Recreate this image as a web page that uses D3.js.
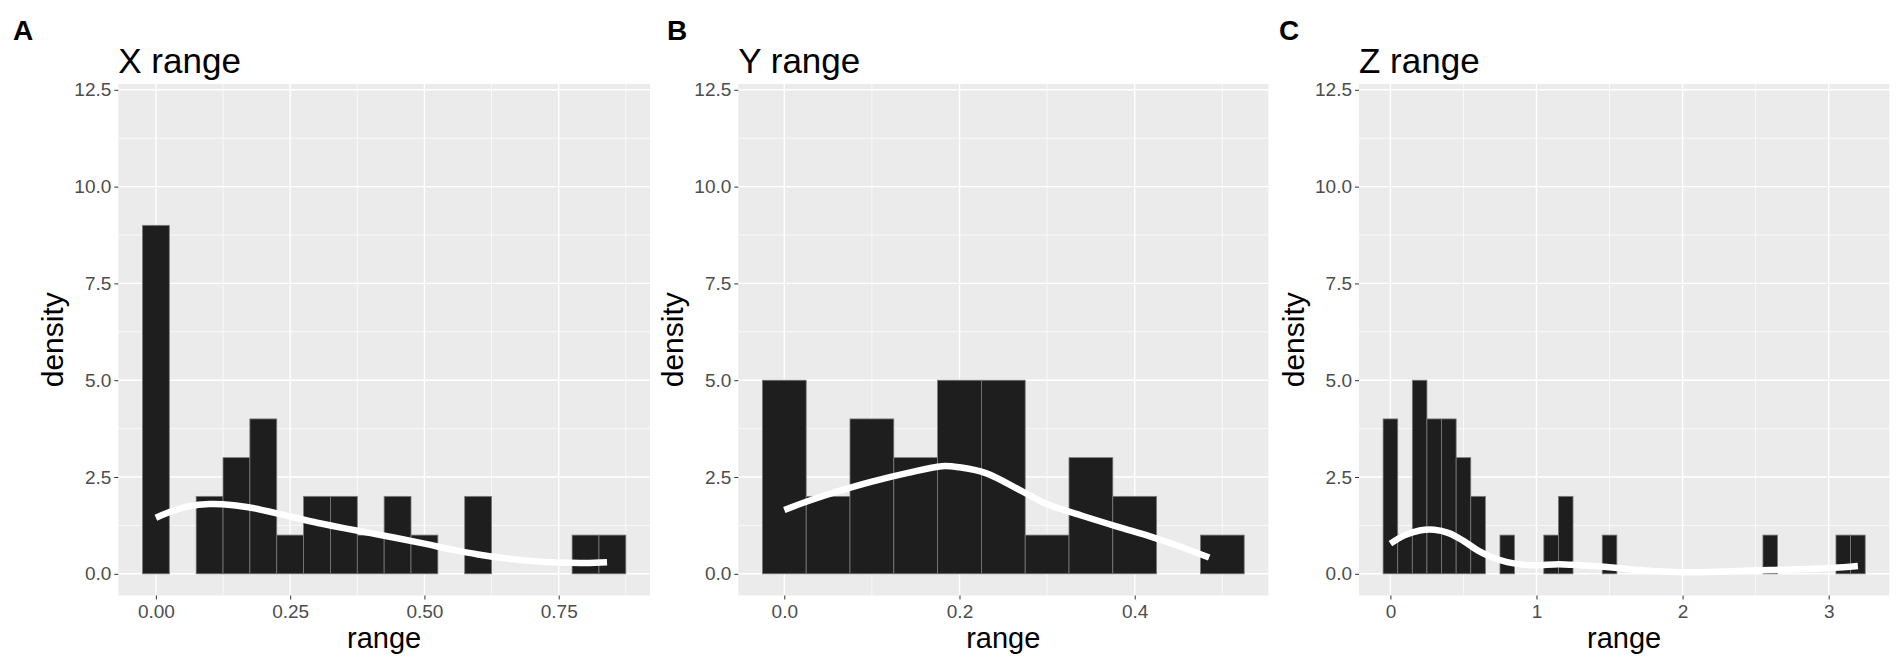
<!DOCTYPE html>
<html><head><meta charset="utf-8">
<script src="https://cdn.jsdelivr.net/npm/d3@7"></script>
<style>
body{margin:0;background:#fff}
svg{display:block}
text{font-family:"Liberation Sans",Arial,sans-serif}
</style></head>
<body><svg id="chart" width="1904" height="662"></svg>
<script>
// ---------- data ----------
const binCentersA = [0, 0.10, 0.15, 0.20, 0.25, 0.30, 0.35, 0.40, 0.45, 0.50, 0.60, 0.80, 0.85];
const densityA    = [9, 2, 3, 4, 1, 2, 2, 1, 2, 1, 2, 1, 1];
const binWidthA   = 0.05;
const curveXA = [0, 0.03, 0.06, 0.10, 0.14, 0.18, 0.25, 0.30, 0.35, 0.40, 0.45, 0.50, 0.55, 0.60, 0.65, 0.70, 0.75, 0.80, 0.84];
const curveYA = [1.45, 1.62, 1.74, 1.80, 1.78, 1.70, 1.48, 1.32, 1.18, 1.05, 0.92, 0.78, 0.63, 0.50, 0.40, 0.33, 0.29, 0.28, 0.30];
const xTicksA = [0, 0.25, 0.5, 0.75];
const xTickLabelsA = ["0.00", "0.25", "0.50", "0.75"];
const xMinorA = [0.125, 0.375, 0.625, 0.875];

const binCentersB = [0, 0.05, 0.10, 0.15, 0.20, 0.25, 0.30, 0.35, 0.40, 0.50];
const densityB    = [5, 2, 4, 3, 5, 5, 1, 3, 2, 1];
const binWidthB   = 0.05;
const curveXB = [0, 0.03, 0.06, 0.10, 0.14, 0.18, 0.20, 0.23, 0.27, 0.30, 0.34, 0.38, 0.42, 0.45, 0.485];
const curveYB = [1.65, 1.90, 2.12, 2.38, 2.60, 2.78, 2.75, 2.60, 2.15, 1.80, 1.50, 1.22, 0.95, 0.72, 0.42];
const xTicksB = [0, 0.2, 0.4];
const xTickLabelsB = ["0.0", "0.2", "0.4"];
const xMinorB = [0.1, 0.3, 0.5];

const binCentersC = [0, 0.1, 0.2, 0.3, 0.4, 0.5, 0.6, 0.8, 1.1, 1.2, 1.5, 2.6, 3.1, 3.2];
const densityC    = [4, 1, 5, 4, 4, 3, 2, 1, 1, 2, 1, 1, 1, 1];
const binWidthC   = 0.1;
const curveXC = [0, 0.1, 0.2, 0.3, 0.4, 0.5, 0.6, 0.7, 0.8, 0.9, 1.0, 1.15, 1.3, 1.5, 1.7, 2.0, 2.3, 2.6, 2.9, 3.1, 3.2];
const curveYC = [0.78, 1.00, 1.12, 1.14, 1.05, 0.85, 0.60, 0.42, 0.30, 0.24, 0.22, 0.25, 0.22, 0.17, 0.10, 0.04, 0.06, 0.10, 0.13, 0.17, 0.20];
const xTicksC = [0, 1, 2, 3];
const xTickLabelsC = ["0", "1", "2", "3"];
const xMinorC = [0.5, 1.5, 2.5];

const yTicks = [0, 2.5, 5, 7.5, 10, 12.5];
const yTickLabels = ["0.0", "2.5", "5.0", "7.5", "10.0", "12.5"];
const yMinor = [1.25, 3.75, 6.25, 8.75, 11.25];
const yDomain = [-0.56, 12.65];

const letters = ["A", "B", "C"];
const titles = ["X range", "Y range", "Z range"];

// ---------- layout ----------
const svg = d3.select("#chart");
const plotTop = 84, plotBottom = 595.5;
const panels = [
  {letter: letters[0], title: titles[0], left: 118.3, right: 650, letterX: 13, xDomain: [-0.07, 0.92],
   centers: binCentersA, dens: densityA, bw: binWidthA, cx: curveXA, cy: curveYA,
   xTicks: xTicksA, xLabels: xTickLabelsA, xMinor: xMinorA},
  {letter: letters[1], title: titles[1], left: 738.3, right: 1268.3, letterX: 667, xDomain: [-0.0525, 0.5525],
   centers: binCentersB, dens: densityB, bw: binWidthB, cx: curveXB, cy: curveYB,
   xTicks: xTicksB, xLabels: xTickLabelsB, xMinor: xMinorB},
  {letter: letters[2], title: titles[2], left: 1359, right: 1889.3, letterX: 1279, xDomain: [-0.215, 3.415],
   centers: binCentersC, dens: densityC, bw: binWidthC, cx: curveXC, cy: curveYC,
   xTicks: xTicksC, xLabels: xTickLabelsC, xMinor: xMinorC}
];

panels.forEach(p => {
  const g = svg.append("g");
  const x = d3.scaleLinear().domain(p.xDomain).range([p.left, p.right]);
  const y = d3.scaleLinear().domain(yDomain).range([plotBottom, plotTop]);

  g.append("rect").attr("x", p.left).attr("y", plotTop)
    .attr("width", p.right - p.left).attr("height", plotBottom - plotTop).attr("fill", "#EBEBEB");

  g.selectAll(".ymin").data(yMinor).join("line")
    .attr("x1", p.left).attr("x2", p.right).attr("y1", d => y(d)).attr("y2", d => y(d))
    .attr("stroke", "#fff").attr("stroke-width", 0.7);
  g.selectAll(".xmin").data(p.xMinor.filter(d => x(d) < p.right)).join("line")
    .attr("y1", plotTop).attr("y2", plotBottom).attr("x1", d => x(d)).attr("x2", d => x(d))
    .attr("stroke", "#fff").attr("stroke-width", 0.7);
  g.selectAll(".ymaj").data(yTicks).join("line")
    .attr("x1", p.left).attr("x2", p.right).attr("y1", d => y(d)).attr("y2", d => y(d))
    .attr("stroke", "#fff").attr("stroke-width", 1.4);
  g.selectAll(".xmaj").data(p.xTicks).join("line")
    .attr("y1", plotTop).attr("y2", plotBottom).attr("x1", d => x(d)).attr("x2", d => x(d))
    .attr("stroke", "#fff").attr("stroke-width", 1.4);

  const bars = p.centers.map((c, i) => ({c, h: p.dens[i]}));
  g.selectAll(".bar").data(bars).join("rect")
    .attr("x", d => x(d.c - p.bw / 2))
    .attr("width", d => x(d.c + p.bw / 2) - x(d.c - p.bw / 2))
    .attr("y", d => y(d.h))
    .attr("height", d => y(0) - y(d.h))
    .attr("fill", "#1E1E1E").attr("stroke", "#7a7a7a").attr("stroke-width", 0.8);

  const pts = p.cx.map((v, i) => [v, p.cy[i]]);
  g.append("path").datum(pts)
    .attr("d", d3.line().x(d => x(d[0])).y(d => y(d[1])).curve(d3.curveCatmullRom))
    .attr("fill", "none").attr("stroke", "#fff").attr("stroke-width", 6.5)
    .attr("stroke-linecap", "butt");

  const ya = g.append("g").attr("transform", `translate(${p.left},0)`)
    .call(d3.axisLeft(y).tickValues(yTicks).tickFormat((d, i) => yTickLabels[i]).tickSize(4).tickPadding(3));
  ya.select(".domain").remove();
  ya.selectAll("line").attr("stroke", "#333");
  ya.selectAll("text").attr("font-size", 19).attr("fill", "#4D4D4D")
    .attr("font-family", "Liberation Sans, Arial, sans-serif");

  const xa = g.append("g").attr("transform", `translate(0,${plotBottom})`)
    .call(d3.axisBottom(x).tickValues(p.xTicks).tickFormat((d, i) => p.xLabels[i]).tickSize(4).tickPadding(5));
  xa.select(".domain").remove();
  xa.selectAll("line").attr("stroke", "#333");
  xa.selectAll("text").attr("font-size", 19).attr("fill", "#4D4D4D")
    .attr("font-family", "Liberation Sans, Arial, sans-serif");

  g.append("text").attr("x", p.left).attr("y", 72.7).attr("font-size", 35).attr("fill", "#000").text(p.title);
  g.append("text").attr("x", p.letterX).attr("y", 40).attr("font-size", 28).attr("font-weight", "bold")
    .attr("fill", "#000").text(p.letter);
  g.append("text").attr("x", (p.left + p.right) / 2).attr("y", 648).attr("font-size", 29)
    .attr("text-anchor", "middle").attr("fill", "#000").text("range");
  g.append("text").attr("transform", `translate(${p.left - 55},${(plotTop + plotBottom) / 2}) rotate(-90)`)
    .attr("font-size", 30).attr("text-anchor", "middle").attr("fill", "#000").text("density");
});
</script></body></html>
